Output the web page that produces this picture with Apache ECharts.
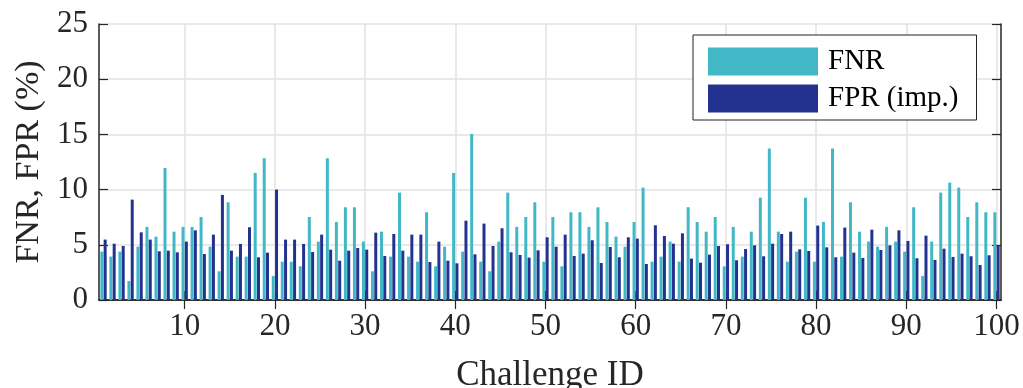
<!DOCTYPE html>
<html>
<head>
<meta charset="utf-8">
<script src="https://cdn.jsdelivr.net/npm/echarts@6/dist/echarts.min.js"></script>
<style>
  html, body { margin: 0; padding: 0; background: #ffffff; }
  #chart { width: 1023px; height: 388px; }
</style>
</head>
<body>
<div id="chart"></div>
<script>
// Challenge IDs 1..100
const challengeIds = Array.from({ length: 100 }, (_, i) => String(i + 1));

// False negative rate per challenge (%)
const fnr = [
  4.38, 3.93, 4.38, 1.72, 4.83, 6.62, 5.74, 11.96, 6.19, 6.62,
  6.62, 7.52, 4.83, 2.60, 8.85, 3.93, 3.93, 11.51, 12.84, 2.18,
  3.47, 3.47, 3.05, 7.52, 5.29, 12.84, 7.07, 8.40, 8.40, 5.29,
  2.60, 6.19, 3.93, 9.73, 3.93, 3.47, 7.95, 3.05, 4.83, 11.51,
  4.38, 15.05, 3.47, 2.60, 5.29, 9.73, 6.62, 7.52, 8.85, 3.47,
  7.52, 3.05, 7.95, 7.95, 6.62, 8.40, 7.07, 5.74, 4.83, 7.07,
  10.18, 3.47, 3.93, 5.29, 3.47, 8.40, 7.07, 6.19, 7.52, 3.05,
  6.62, 3.93, 6.19, 9.27, 13.72, 6.19, 3.47, 4.38, 9.27, 3.47,
  7.07, 13.72, 3.93, 8.85, 6.19, 5.29, 4.83, 6.62, 5.29, 4.38,
  8.40, 2.18, 5.29, 9.73, 10.63, 10.18, 7.52, 8.85, 7.95, 7.95
];

// False positive rate against impostors per challenge (%)
const fprImp = [
  5.47, 5.10, 4.89, 9.09, 6.13, 5.47, 4.41, 4.47, 4.32, 5.29,
  6.31, 4.17, 5.92, 9.52, 4.47, 5.08, 6.59, 3.87, 4.29, 10.00,
  5.47, 5.47, 5.08, 4.35, 5.92, 4.56, 3.56, 4.47, 4.71, 4.56,
  6.10, 3.99, 5.98, 4.47, 5.92, 5.92, 3.44, 5.29, 3.56, 3.32,
  7.19, 4.14, 6.92, 4.89, 6.50, 4.32, 4.08, 3.84, 4.50, 5.68,
  4.83, 5.92, 3.99, 4.20, 5.41, 3.35, 4.80, 3.87, 5.68, 5.56,
  3.26, 6.77, 5.80, 5.10, 6.04, 3.75, 3.38, 4.11, 4.89, 5.05,
  3.60, 4.62, 4.95, 3.96, 5.10, 5.98, 6.19, 4.59, 4.44, 6.74,
  4.77, 3.87, 6.56, 4.29, 3.81, 6.37, 4.53, 4.95, 6.31, 5.35,
  3.78, 5.83, 3.63, 4.65, 3.90, 4.20, 3.96, 3.17, 4.05, 4.92
];

const yMin = 0;
const yMax = 25;
const yStep = 5;
const xTickEvery = 10;

const serif = '"Liberation Serif", "DejaVu Serif", serif';
const ink = '#262626';
const gridGray = '#e2e2e2';
const showEvery = (index) => (index + 1) % xTickEvery === 0;

const chart = echarts.init(document.getElementById('chart'), null, { renderer: 'canvas' });

chart.setOption({
  animation: false,
  backgroundColor: '#ffffff',
  grid: { left: 99, right: 22, top: 24, bottom: 88, containLabel: false, outerBoundsMode: 'none' },
  legend: {
    left: 693,
    top: 35,
    orient: 'vertical',
    icon: 'rect',
    itemWidth: 110,
    itemHeight: 28,
    itemGap: 8,
    padding: [12, 18, 7, 15],
    backgroundColor: '#ffffff',
    borderColor: '#222222',
    borderWidth: 1,
    borderRadius: 0,
    textStyle: { fontFamily: serif, fontSize: 29, color: '#000000', padding: [0, 0, 0, 5] },
    data: ['FNR', 'FPR (imp.)']
  },
  xAxis: [
    {
      type: 'category',
      data: challengeIds,
      position: 'bottom',
      boundaryGap: true,
      name: 'Challenge ID',
      nameLocation: 'middle',
      nameGap: 58,
      nameTextStyle: { fontFamily: serif, fontSize: 35, color: ink },
      axisLine: { show: true, lineStyle: { color: ink, width: 1.5 } },
      axisTick: { show: true, inside: true, length: 9, alignWithLabel: true, interval: showEvery, lineStyle: { color: ink, width: 1.2 } },
      axisLabel: { interval: showEvery, margin: 11, fontFamily: serif, fontSize: 31, color: ink },
      splitLine: { show: true, interval: showEvery, alignWithLabel: true, lineStyle: { color: gridGray, width: 1.5 } }
    },
    {
      type: 'category',
      data: challengeIds,
      position: 'top',
      boundaryGap: true,
      axisLine: { show: true, lineStyle: { color: ink, width: 1.5 } },
      axisTick: { show: true, inside: true, length: 9, alignWithLabel: true, interval: showEvery, lineStyle: { color: ink, width: 1.2 } },
      axisLabel: { show: false },
      splitLine: { show: false }
    }
  ],
  yAxis: [
    {
      type: 'value',
      min: yMin,
      max: yMax,
      interval: yStep,
      position: 'left',
      name: 'FNR, FPR (%)',
      nameLocation: 'middle',
      nameGap: 52,
      nameTextStyle: { fontFamily: serif, fontSize: 34, color: ink },
      axisLine: { show: true, lineStyle: { color: ink, width: 1.5 } },
      axisTick: { show: true, inside: true, length: 9, lineStyle: { color: ink, width: 1.2 } },
      axisLabel: { margin: 11, fontFamily: serif, fontSize: 31, color: ink },
      splitLine: { show: true, lineStyle: { color: gridGray, width: 1.5 } }
    },
    {
      type: 'value',
      min: yMin,
      max: yMax,
      interval: yStep,
      position: 'right',
      axisLine: { show: true, lineStyle: { color: ink, width: 1.5 } },
      axisTick: { show: true, inside: true, length: 9, lineStyle: { color: ink, width: 1.2 } },
      axisLabel: { show: false },
      splitLine: { show: false }
    }
  ],
  series: [
    {
      name: 'FNR',
      type: 'bar',
      xAxisIndex: 0,
      yAxisIndex: 0,
      data: fnr,
      barWidth: 3,
      barGap: '10%',
      itemStyle: { color: '#42b8c6' }
    },
    {
      name: 'FPR (imp.)',
      type: 'bar',
      xAxisIndex: 0,
      yAxisIndex: 0,
      data: fprImp,
      barWidth: 3,
      barGap: '10%',
      itemStyle: { color: '#24328f' }
    }
  ]
});
</script>
</body>
</html>
